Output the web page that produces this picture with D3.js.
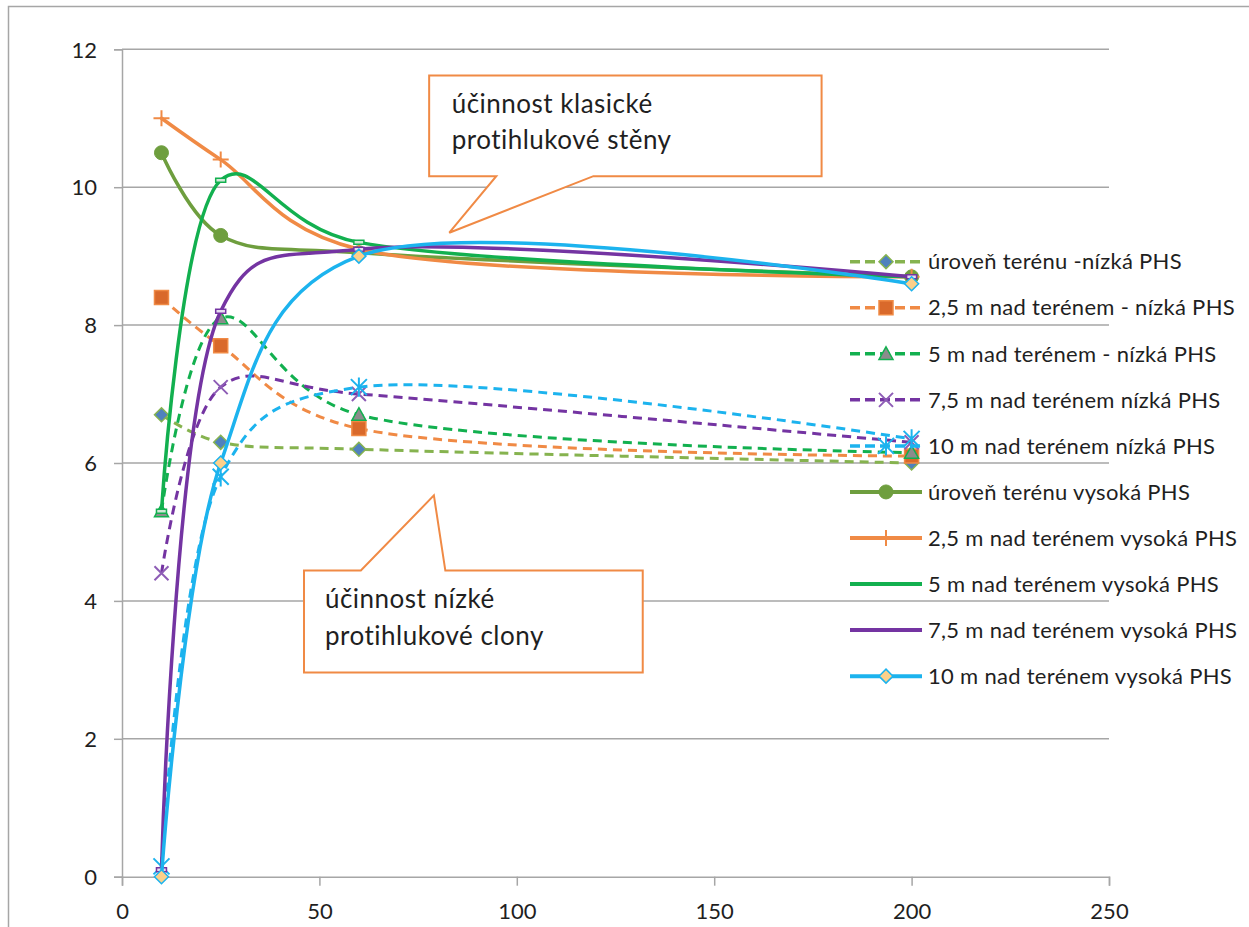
<!DOCTYPE html>
<html>
<head>
<meta charset="utf-8">
<script src="https://cdn.jsdelivr.net/npm/d3@7"></script>
<style>
  html, body { margin: 0; padding: 0; background: #fff; }
  svg { display: block; font-family: Lato, "Open Sans", sans-serif; }
</style>
</head>
<body>
<svg id="chart" width="1249" height="927"></svg>
<script>
// Distance from the barrier (m)
const distances = [10, 25, 60, 200];

// Low barrier (nízká PHS) – dashed series
const lowGround = [6.7, 6.3, 6.2, 6.0];
const low25     = [8.4, 7.7, 6.5, 6.1];
const low5      = [5.3, 8.1, 6.7, 6.15];
const low75     = [4.4, 7.1, 7.0, 6.3];
const low10     = [0.15, 5.8, 7.1, 6.35];

// High barrier (vysoká PHS) – solid series
const highGround = [10.5, 9.3, 9.05, 8.7];
const high25     = [11.0, 10.4, 9.1, 8.7];
const high5      = [5.3, 10.1, 9.2, 8.7];
const high75     = [0.1, 8.2, 9.1, 8.7];
const high10     = [0.0, 6.0, 9.0, 8.6];

const seriesNames = [
  "úroveň terénu -nízká PHS",
  "2,5 m nad terénem - nízká PHS",
  "5 m nad terénem - nízká PHS",
  "7,5 m nad terénem nízká PHS",
  "10 m nad terénem nízká PHS",
  "úroveň terénu vysoká PHS",
  "2,5 m nad terénem vysoká PHS",
  "5 m nad terénem vysoká PHS",
  "7,5 m nad terénem vysoká PHS",
  "10 m nad terénem vysoká PHS"
];
const seriesValues = [lowGround, low25, low5, low75, low10, highGround, high25, high5, high75, high10];

const xTicks = [0, 50, 100, 150, 200, 250];
const yTicks = [0, 2, 4, 6, 8, 10, 12];

const calloutTexts = [
  ["účinnost klasické", "protihlukové stěny"],
  ["účinnost nízké", "protihlukové clony"]
];

// Visual style per series
const styles = [
  { color: "#86B34F", dash: "9,6", width: 3,   marker: "diamond",  mFill: "#4F81BD", mStroke: "#86B34F", size: 7 },
  { color: "#F08A45", dash: "9,6", width: 3,   marker: "square",   mFill: "#D9692B", mStroke: "#F08A45", size: 7 },
  { color: "#12B04F", dash: "9,6", width: 3,   marker: "triangle", mFill: "#8C8C8C", mStroke: "#12B04F", size: 7 },
  { color: "#7434A2", dash: "9,6", width: 3,   marker: "cross",    mFill: "none",    mStroke: "#8E5DB6", size: 7 },
  { color: "#1CB3EE", dash: "9,6", width: 3,   marker: "star",     mFill: "none",    mStroke: "#1CB3EE", size: 8 },
  { color: "#6E9E3E", dash: null,  width: 3.5, marker: "circle",   mFill: "#6E9E3E", mStroke: "#6E9E3E", size: 7 },
  { color: "#F08A45", dash: null,  width: 3.5, marker: "plus",     mFill: "none",    mStroke: "#F08A45", size: 8 },
  { color: "#12B04F", dash: null,  width: 3.5, marker: "bar",      mFill: "#CFE8D6", mStroke: "#12B04F", size: 5 },
  { color: "#7434A2", dash: null,  width: 3.5, marker: "bar",      mFill: "#E6DDF0", mStroke: "#7434A2", size: 5 },
  { color: "#1CB3EE", dash: null,  width: 3.5, marker: "diamond",  mFill: "#FCD08A", mStroke: "#1CB3EE", size: 7 }
];

const svg = d3.select("#chart");
const x = d3.scaleLinear().domain([0, 250]).range([122, 1109]);
const y = d3.scaleLinear().domain([0, 12]).range([876.7, 49.3]);
const gridColor = "#A6A6A6";
const textColor = "#1F1F1F";

// Outer chart frame (only top and left edges fall inside the page)
svg.append("rect")
  .attr("x", 8.5).attr("y", 6.5).attr("width", 1400).attr("height", 1100)
  .attr("fill", "none").attr("stroke", gridColor).attr("stroke-width", 1.5);

// Horizontal gridlines
svg.append("g").selectAll("line")
  .data(yTicks.filter(t => t > 0))
  .join("line")
  .attr("x1", x(0)).attr("x2", x(250))
  .attr("y1", d => y(d)).attr("y2", d => y(d))
  .attr("stroke", gridColor).attr("stroke-width", 1.5);

// Axes
const xAxis = svg.append("g").attr("transform", `translate(0,${y(0)})`)
  .call(d3.axisBottom(x).tickValues(xTicks).tickSize(9).tickPadding(18));
const yAxis = svg.append("g").attr("transform", `translate(${x(0)},0)`)
  .call(d3.axisLeft(y).tickValues(yTicks).tickSize(8).tickPadding(17));
[xAxis, yAxis].forEach(g => {
  g.select(".domain").attr("stroke", gridColor).attr("stroke-width", 1.5);
  g.selectAll(".tick line").attr("stroke", gridColor).attr("stroke-width", 1.5);
  g.selectAll(".tick text").attr("fill", textColor)
    .style("font-size", "22px").style("font-family", "Lato, sans-serif");
});
yAxis.selectAll(".tick text").attr("dy", "0.35em");

// Marker shapes
function markerPath(type, s) {
  switch (type) {
    case "diamond":  return `M0,${-s}L${s},0L0,${s}L${-s},0Z`;
    case "square":   return `M${-s},${-s}H${s}V${s}H${-s}Z`;
    case "triangle": return `M0,${-s}L${s},${s * 0.8}L${-s},${s * 0.8}Z`;
    case "cross":    return `M${-s},${-s}L${s},${s}M${s},${-s}L${-s},${s}`;
    case "plus":     return `M${-s},0H${s}M0,${-s}V${s}`;
    case "star":     return `M${-s},${-s}L${s},${s}M${s},${-s}L${-s},${s}M0,${-s * 1.2}V${s * 1.2}`;
    case "bar":      return `M${-s},-2H${s}V2H${-s}Z`;
    default:         return null;
  }
}
function drawMarker(g, st, cx, cy) {
  if (st.marker === "circle") {
    g.append("circle").attr("cx", cx).attr("cy", cy).attr("r", st.size)
      .attr("fill", st.mFill).attr("stroke", st.mStroke).attr("stroke-width", 1);
  } else {
    const open = st.marker === "cross" || st.marker === "plus" || st.marker === "star";
    g.append("path").attr("transform", `translate(${cx},${cy})`)
      .attr("d", markerPath(st.marker, st.size))
      .attr("fill", open ? "none" : st.mFill)
      .attr("stroke", st.mStroke).attr("stroke-width", open ? 2 : 1.5);
  }
}

// Smoothed series lines (Catmull–Rom spline)
const line = d3.line()
  .x(d => x(d[0])).y(d => y(d[1]))
  .curve(d3.curveCatmullRom.alpha(0.25));

const plot = svg.append("g");
seriesValues.forEach((vals, i) => {
  const st = styles[i];
  const pts = distances.map((d, k) => [d, vals[k]]);
  const g = plot.append("g");
  g.append("path").datum(pts).attr("d", line)
    .attr("fill", "none").attr("stroke", st.color).attr("stroke-width", st.width)
    .attr("stroke-dasharray", st.dash).attr("stroke-linecap", st.dash ? "butt" : "round");
  pts.forEach(p => drawMarker(g, st, x(p[0]), y(p[1])));
});

// Legend
const legend = svg.append("g");
const legendY0 = 261.7, legendStep = 46.05;
seriesNames.forEach((name, i) => {
  const st = styles[i];
  const ly = legendY0 + i * legendStep;
  const g = legend.append("g");
  g.append("line").attr("x1", 850).attr("x2", 922).attr("y1", ly).attr("y2", ly)
    .attr("stroke", st.color).attr("stroke-width", st.width + 0.5)
    .attr("stroke-dasharray", st.dash ? "10,5" : null);
  if (st.marker !== "bar") drawMarker(g, st, 886, ly);
  g.append("text").attr("x", 928).attr("y", ly).attr("dy", "0.35em")
    .attr("fill", textColor).style("font-size", "22px").style("letter-spacing", "0.3px").text(name);
});

// Callout boxes
const callouts = [
  { box: [77.8, 177.2, 11.62, 10.16], tail: [[94.8, 10.16], [82.9, 9.34], [119.4, 10.16]], text: calloutTexts[0], tx: 83.5, ty: [11.08, 10.55] },
  { box: [46.1, 131.9, 4.44, 2.96],   tail: [[60.5, 4.44], [79.0, 5.53], [81.9, 4.44]],  text: calloutTexts[1], tx: 51.4, ty: [3.9, 3.36] }
];
callouts.forEach(c => {
  const [x0, x1, yTop, yBot] = c.box;
  const [a, tip, b] = c.tail;
  let d;
  if (tip[1] < yBot) {
    // tail below the box
    d = `M${x(x0)},${y(yTop)}H${x(x1)}V${y(yBot)}H${x(b[0])}L${x(tip[0])},${y(tip[1])}L${x(a[0])},${y(yBot)}H${x(x0)}Z`;
  } else {
    // tail above the box
    d = `M${x(x0)},${y(yTop)}H${x(a[0])}L${x(tip[0])},${y(tip[1])}L${x(b[0])},${y(yTop)}H${x(x1)}V${y(yBot)}H${x(x0)}Z`;
  }
  svg.append("path").attr("d", d).attr("fill", "#fff")
    .attr("stroke", "#F08A45").attr("stroke-width", 2).attr("stroke-linejoin", "miter");
  c.text.forEach((t, k) => {
    svg.append("text").attr("x", x(c.tx)).attr("y", y(c.ty[k]))
      .attr("fill", textColor).style("font-size", "26px").style("letter-spacing", "0.5px").text(t);
  });
});
</script>
</body>
</html>
